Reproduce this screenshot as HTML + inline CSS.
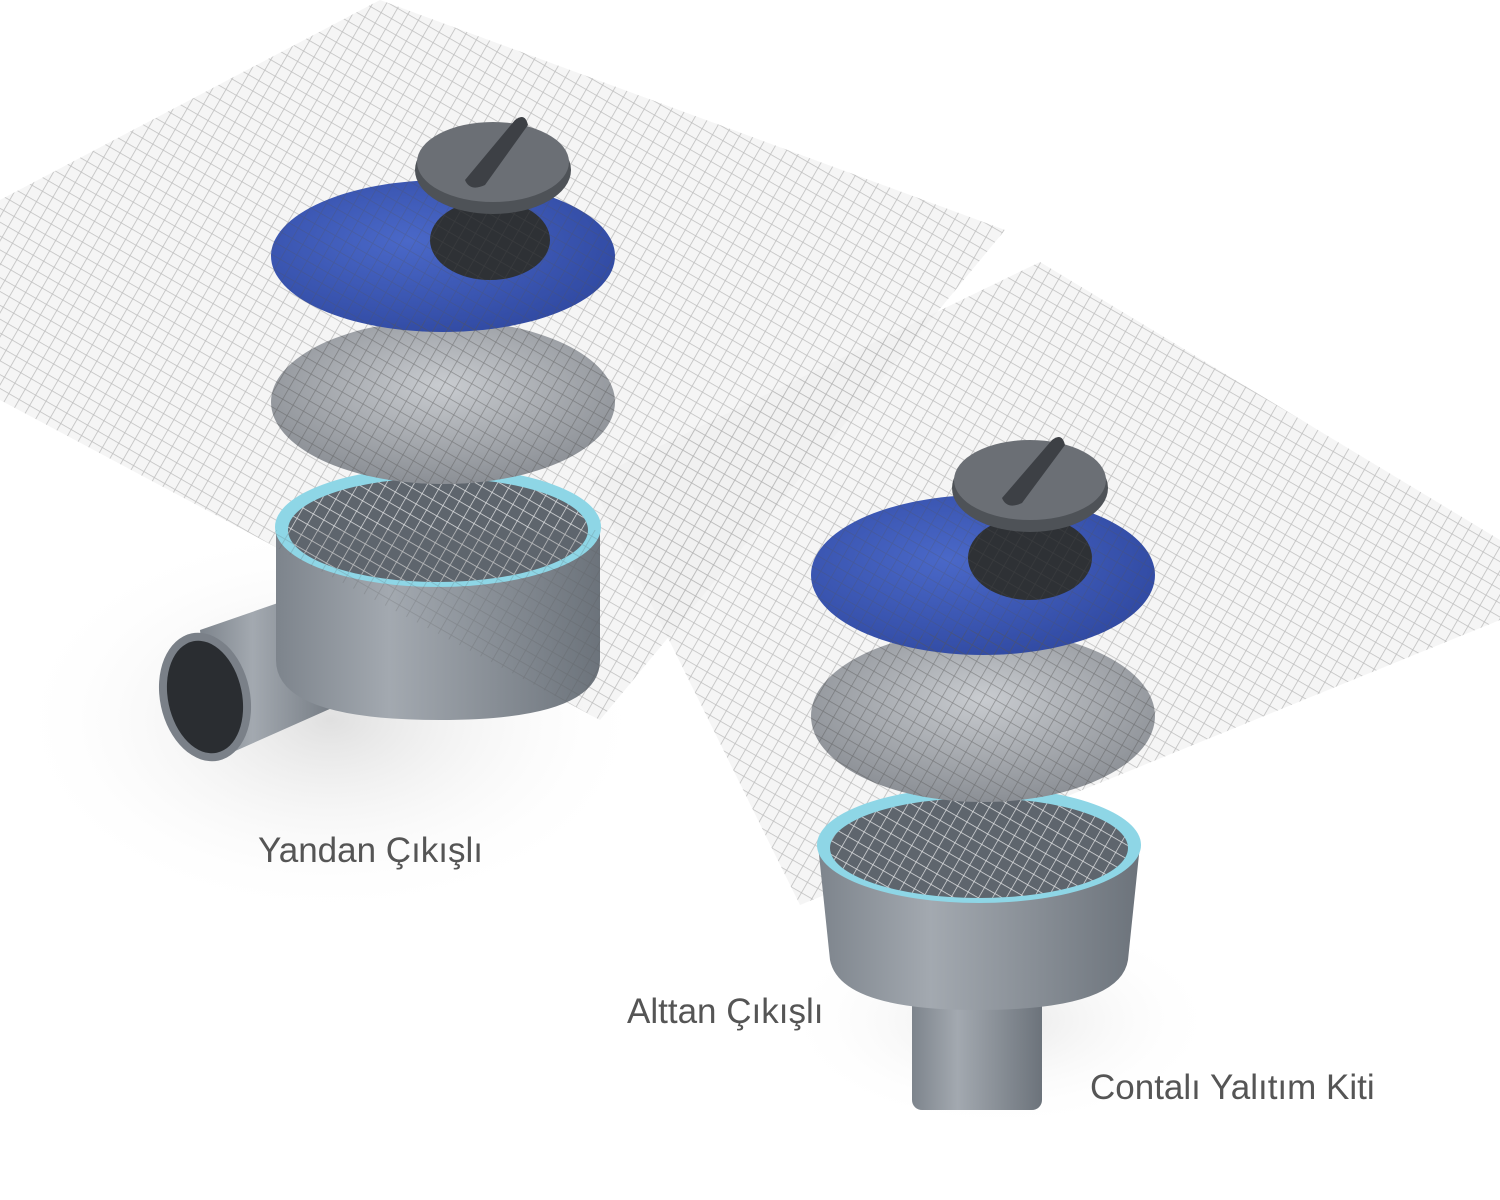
<!DOCTYPE html>
<html><head><meta charset="utf-8"><style>
html,body{margin:0;padding:0;background:#fff;}
svg{display:block;}
text{font-family:"Liberation Sans",sans-serif;fill:#555;}
</style></head><body>
<svg width="1500" height="1200" viewBox="0 0 1500 1200" xmlns="http://www.w3.org/2000/svg">
<defs>
<pattern id="mesh" width="12" height="12" patternUnits="userSpaceOnUse" patternTransform="rotate(30)">
<rect width="12" height="12" fill="none"/>
<path d="M0 0H12M0 0V12" stroke="#9a9a9a" stroke-width="1.6"/>
</pattern>
<pattern id="meshdk" width="12" height="12" patternUnits="userSpaceOnUse" patternTransform="rotate(30)">
<path d="M0 0H12M0 0V12" stroke="#555" stroke-width="1.5"/>
</pattern>
<pattern id="meshd" width="12" height="12" patternUnits="userSpaceOnUse" patternTransform="rotate(30)">
<path d="M0 0H12M0 0V12" stroke="#fff" stroke-width="1.4" opacity="0.8"/>
</pattern>
<linearGradient id="body" x1="0" x2="1">
<stop offset="0" stop-color="#7d848c"/><stop offset="0.35" stop-color="#a3a9b0"/><stop offset="1" stop-color="#6c737b"/>
</linearGradient>
<radialGradient id="blue" cx="0.4" cy="0.4" r="0.7">
<stop offset="0" stop-color="#4a68c8"/><stop offset="1" stop-color="#2f48a0"/>
</radialGradient>
<radialGradient id="filt" cx="0.5" cy="0.4" r="0.6">
<stop offset="0" stop-color="#c9ccd0"/><stop offset="1" stop-color="#8b8f95"/>
</radialGradient>
<radialGradient id="shadow" cx="0.5" cy="0.5" r="0.5">
<stop offset="0" stop-color="#d8d8d8"/><stop offset="1" stop-color="#fff" stop-opacity="0"/>
</radialGradient>
<clipPath id="m1"><polygon points="0,200 380,0 1005,230 600,720 0,400"/></clipPath>
<clipPath id="m2"><polygon points="590,480 1040,262 1500,540 1500,620 800,905"/></clipPath>
</defs>

<ellipse cx="330" cy="720" rx="320" ry="200" fill="url(#shadow)" opacity="0.8"/>
<ellipse cx="1000" cy="1020" rx="220" ry="110" fill="url(#shadow)" opacity="0.6"/>

<polygon points="0,200 380,0 1005,230 600,720 0,400" fill="#eeeeee" opacity="0.6"/>
<polygon points="0,200 380,0 1005,230 600,720 0,400" fill="url(#mesh)" opacity="0.6"/>
<polygon points="590,480 1040,262 1500,540 1500,620 800,905" fill="#eeeeee" opacity="0.6"/>
<polygon points="590,480 1040,262 1500,540 1500,620 800,905" fill="url(#mesh)" opacity="0.6"/>

<!-- Drain 1 -->
<path d="M200 630 L330 585 L350 700 L215 760 Z" fill="url(#body)"/>
<ellipse cx="205" cy="697" rx="45" ry="65" transform="rotate(-12 205 697)" fill="#7a8088"/>
<ellipse cx="205" cy="697" rx="37" ry="57" transform="rotate(-12 205 697)" fill="#2a2d31"/>
<path d="M276 530 L276 660 Q276 720 440 720 Q600 720 600 660 L600 530 Z" fill="url(#body)"/>
<ellipse cx="438" cy="527" rx="163" ry="60" fill="#8ed6e6"/>
<ellipse cx="438" cy="530" rx="150" ry="52" fill="#5e656d"/>
<ellipse cx="438" cy="530" rx="150" ry="52" fill="url(#meshd)"/>
<ellipse cx="443" cy="402" rx="172" ry="82" fill="url(#filt)"/>
<ellipse cx="443" cy="256" rx="172" ry="76" fill="url(#blue)"/>
<ellipse cx="490" cy="240" rx="60" ry="40" fill="#2e3135"/>

<!-- Drain 2 -->
<rect x="912" y="980" width="130" height="130" rx="10" fill="url(#body)"/>
<path d="M818 845 L830 960 Q840 1010 978 1010 Q1120 1010 1128 960 L1140 845 Z" fill="url(#body)"/>
<ellipse cx="979" cy="845" rx="162" ry="58" fill="#8ed6e6"/>
<ellipse cx="979" cy="848" rx="149" ry="50" fill="#5e656d"/>
<ellipse cx="979" cy="848" rx="149" ry="50" fill="url(#meshd)"/>
<ellipse cx="983" cy="716" rx="172" ry="86" fill="url(#filt)"/>
<ellipse cx="983" cy="575" rx="172" ry="80" fill="url(#blue)"/>
<ellipse cx="1030" cy="558" rx="62" ry="42" fill="#2e3135"/>

<!-- mesh over drains -->
<g clip-path="url(#m1)" opacity="0.5">
<ellipse cx="443" cy="402" rx="172" ry="82" fill="url(#meshdk)"/>
<ellipse cx="443" cy="256" rx="172" ry="76" fill="url(#meshdk)" opacity="0.6"/>
<path d="M276 530 L276 660 Q276 720 440 720 Q600 720 600 660 L600 530 Z" fill="url(#meshdk)" opacity="0.5"/>
</g>
<g clip-path="url(#m2)" opacity="0.5">
<ellipse cx="983" cy="716" rx="172" ry="86" fill="url(#meshdk)"/>
<ellipse cx="983" cy="575" rx="172" ry="80" fill="url(#meshdk)" opacity="0.6"/>
</g>

<!-- caps -->
<ellipse cx="493" cy="170" rx="78" ry="44" fill="#4e5257"/>
<ellipse cx="493" cy="162" rx="76" ry="40" fill="#6b6f75"/>
<path d="M465 180 L515 120 Q525 112 528 125 L485 185 Q470 192 465 180Z" fill="#3d4045"/>
<ellipse cx="1030" cy="488" rx="78" ry="44" fill="#4e5257"/>
<ellipse cx="1030" cy="480" rx="76" ry="40" fill="#6b6f75"/>
<path d="M1002 498 L1052 440 Q1062 432 1065 445 L1022 503 Q1007 510 1002 498Z" fill="#3d4045"/>

<text x="258" y="862" font-size="35">Yandan Çıkışlı</text>
<text x="627" y="1023" font-size="35">Alttan Çıkışlı</text>
<text x="1090" y="1099" font-size="35">Contalı Yalıtım Kiti</text>
</svg>
</body></html>
